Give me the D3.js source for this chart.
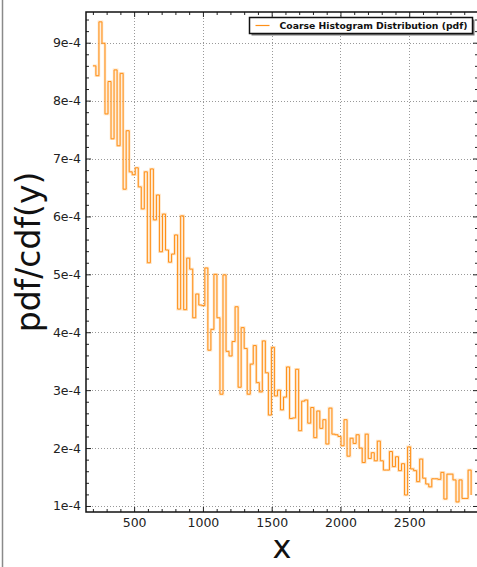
<!DOCTYPE html>
<html>
<head>
<meta charset="utf-8">
<script src="https://cdn.jsdelivr.net/npm/d3@7"></script>
<style>
body { margin: 0; background: white; }
svg { display: block; font-family: "DejaVu Sans", sans-serif; }
</style>
</head>
<body>
<svg id="chart"></svg>
<script>
// histogram bins: left edge of first bin and bin width (x units)
const binStart = 200
const binWidth = 22

// pdf value of each bin, in units of 1e-4 (last entry closes the step line)
const pdf = [
    8.60, 8.43, 9.36, 8.99, 7.77, 8.33, 7.34, 8.53, 7.22, 8.47,
    6.47, 7.48, 6.77, 6.72, 6.84, 6.51, 6.13, 6.77, 5.20, 6.82,
    5.94, 6.37, 5.39, 6.04, 5.42, 5.21, 5.35, 5.68, 4.40, 6.01,
    4.39, 5.28, 5.09, 4.25, 4.66, 4.47, 4.46, 5.11, 3.69, 4.05,
    5.00, 4.25, 2.93, 4.99, 3.67, 3.59, 3.84, 4.44, 3.05, 4.08,
    3.72, 2.93, 3.45, 3.77, 3.13, 2.97, 3.85, 3.30, 2.57, 3.74,
    2.90, 3.00, 2.66, 2.88, 3.40, 2.51, 2.52, 3.36, 2.30, 2.81,
    2.83, 2.43, 2.70, 2.18, 2.64, 2.34, 2.49, 2.07, 2.69, 2.24,
    2.23, 2.20, 2.04, 2.49, 1.86, 2.17, 2.08, 2.23, 2.00, 1.75,
    2.24, 1.82, 1.92, 1.78, 2.12, 1.78, 1.62, 1.62, 1.94, 1.68,
    1.85, 1.61, 1.73, 1.19, 2.02, 1.64, 1.61, 1.42, 1.81, 1.48,
    1.38, 1.33, 1.47, 1.47, 1.46, 1.58, 1.12, 1.55, 1.55, 1.45,
    1.07, 1.45, 1.13, 1.13, 1.62, 1.19
]

const xTicks = [500, 1000, 1500, 2000, 2500]
const xMinorTicks = [200, 300, 400, 600, 700, 800, 900, 1100, 1200, 1300, 1400,
    1600, 1700, 1800, 1900, 2100, 2200, 2300, 2400, 2600, 2700, 2800, 2900]
const yTicks = [1, 2, 3, 4, 5, 6, 7, 8, 9]
const yMinorTicks = [1.2, 1.4, 1.6, 1.8, 2.2, 2.4, 2.6, 2.8, 3.2, 3.4, 3.6, 3.8,
    4.2, 4.4, 4.6, 4.8, 5.2, 5.4, 5.6, 5.8, 6.2, 6.4, 6.6, 6.8, 7.2, 7.4, 7.6, 7.8,
    8.2, 8.4, 8.6, 8.8, 9.2, 9.4]

const legendLabel = "Coarse Histogram Distribution (pdf)"
const xLabel = "x"
const yLabel = "pdf/cdf(y)"

const width = 477
const height = 567
const plot = {left: 86, right: 478, top: 12, bottom: 512}
const lineColor = "#ff9018"

const svg = d3.select("#chart")
    .attr("width", width)
    .attr("height", height)

const x = d3.scaleLinear()
    .domain([150, 3000])
    .range([plot.left, plot.right])

const y = d3.scaleLinear()
    .domain([0.896, 9.53])
    .range([plot.bottom, plot.top])

// window edge on the left
svg.append("line")
    .attr("x1", 2.5).attr("x2", 2.5)
    .attr("y1", 0).attr("y2", height)
    .attr("stroke", "#8a8a8a")
    .attr("stroke-width", 1.5)

// dotted grid
const grid = svg.append("g")
    .attr("stroke", "#999")
    .attr("stroke-width", 1)
    .attr("stroke-dasharray", "1,2")

grid.selectAll(".vgrid")
    .data(xTicks)
    .join("line")
    .attr("x1", d => Math.round(x(d)) + 0.5)
    .attr("x2", d => Math.round(x(d)) + 0.5)
    .attr("y1", plot.top)
    .attr("y2", plot.bottom)

grid.selectAll(".hgrid")
    .data(yTicks)
    .join("line")
    .attr("x1", plot.left)
    .attr("x2", plot.right)
    .attr("y1", d => Math.round(y(d)) + 0.5)
    .attr("y2", d => Math.round(y(d)) + 0.5)

// step line of the histogram
const points = pdf.map((v, i) => [binStart + i * binWidth, v])

const line = d3.line()
    .x(d => x(d[0]))
    .y(d => y(d[1]))
    .curve(d3.curveStepAfter)

svg.append("path")
    .datum(points)
    .attr("d", line)
    .attr("fill", "none")
    .attr("stroke", "#ffc27a")
    .attr("stroke-opacity", 0.45)
    .attr("stroke-width", 2.6)

svg.append("path")
    .datum(points)
    .attr("d", line)
    .attr("fill", "none")
    .attr("stroke", lineColor)
    .attr("stroke-width", 1)

// axes with inward ticks
function styleAxis(g) {
    g.select(".domain").remove()
    g.selectAll(".tick line").attr("stroke", "#222")
    g.selectAll(".tick text")
        .attr("fill", "#222")
        .attr("font-size", "12.5px")
        .attr("font-family", "DejaVu Sans, sans-serif")
}

svg.append("g")
    .attr("transform", `translate(0,${plot.bottom})`)
    .call(d3.axisBottom(x).tickValues(xTicks).tickSize(-5).tickPadding(6)
        .tickFormat(d => String(d)))
    .call(styleAxis)

svg.append("g")
    .attr("transform", `translate(0,${plot.bottom})`)
    .call(d3.axisBottom(x).tickValues(xMinorTicks).tickSize(-3).tickFormat(""))
    .call(styleAxis)

svg.append("g")
    .attr("transform", `translate(0,${plot.top})`)
    .call(d3.axisTop(x).tickValues(xTicks).tickSize(-5).tickFormat(""))
    .call(styleAxis)

svg.append("g")
    .attr("transform", `translate(0,${plot.top})`)
    .call(d3.axisTop(x).tickValues(xMinorTicks).tickSize(-3).tickFormat(""))
    .call(styleAxis)

svg.append("g")
    .attr("transform", `translate(${plot.left},0)`)
    .call(d3.axisLeft(y).tickValues(yTicks).tickSize(-5).tickPadding(5)
        .tickFormat(d => d + "e-4"))
    .call(styleAxis)

svg.append("g")
    .attr("transform", `translate(${plot.left},0)`)
    .call(d3.axisLeft(y).tickValues(yMinorTicks).tickSize(-3).tickFormat(""))
    .call(styleAxis)

svg.append("g")
    .attr("transform", `translate(${plot.right},0)`)
    .call(d3.axisRight(y).tickValues(yTicks).tickSize(-5).tickFormat(""))
    .call(styleAxis)

svg.append("g")
    .attr("transform", `translate(${plot.right},0)`)
    .call(d3.axisRight(y).tickValues(yMinorTicks).tickSize(-3).tickFormat(""))
    .call(styleAxis)

// frame
svg.append("rect")
    .attr("x", plot.left)
    .attr("y", plot.top)
    .attr("width", plot.right - plot.left)
    .attr("height", plot.bottom - plot.top)
    .attr("fill", "none")
    .attr("stroke", "#111")
    .attr("stroke-width", 1.5)

// legend
{
    const lx = 249.5
    const ly = 17.5
    const lw = 223
    const lh = 16
    const textWidth = 188

    svg.append("rect")
        .attr("x", lx + 2)
        .attr("y", ly + 2)
        .attr("width", lw)
        .attr("height", lh)
        .attr("fill", "#777")

    svg.append("rect")
        .attr("x", lx)
        .attr("y", ly)
        .attr("width", lw)
        .attr("height", lh)
        .attr("fill", "white")
        .attr("stroke", "#111")
        .attr("stroke-width", 1.5)

    svg.append("line")
        .attr("x1", lx + 6)
        .attr("x2", lx + 20)
        .attr("y1", ly + 8)
        .attr("y2", ly + 8)
        .attr("stroke", lineColor)
        .attr("stroke-width", 1.2)

    const label = svg.append("text")
        .text(legendLabel)
        .attr("x", lx + 30)
        .attr("y", ly + 11.5)
        .attr("font-size", "10px")
        .attr("font-weight", "bold")
        .attr("fill", "#111")

    // shrink the font so the label fits the box like the reference
    const len = label.node().getComputedTextLength()
    label.attr("font-size", (10 * textWidth / len).toFixed(2) + "px")
}

// axis titles
svg.append("text")
    .text(xLabel)
    .attr("x", (plot.left + plot.right) / 2)
    .attr("y", 558)
    .attr("text-anchor", "middle")
    .attr("font-size", "32px")
    .attr("fill", "#111")

svg.append("text")
    .text(yLabel)
    .attr("transform", "translate(40,252) rotate(-90)")
    .attr("text-anchor", "middle")
    .attr("font-size", "33px")
    .attr("fill", "#111")
</script>
</body>
</html>
